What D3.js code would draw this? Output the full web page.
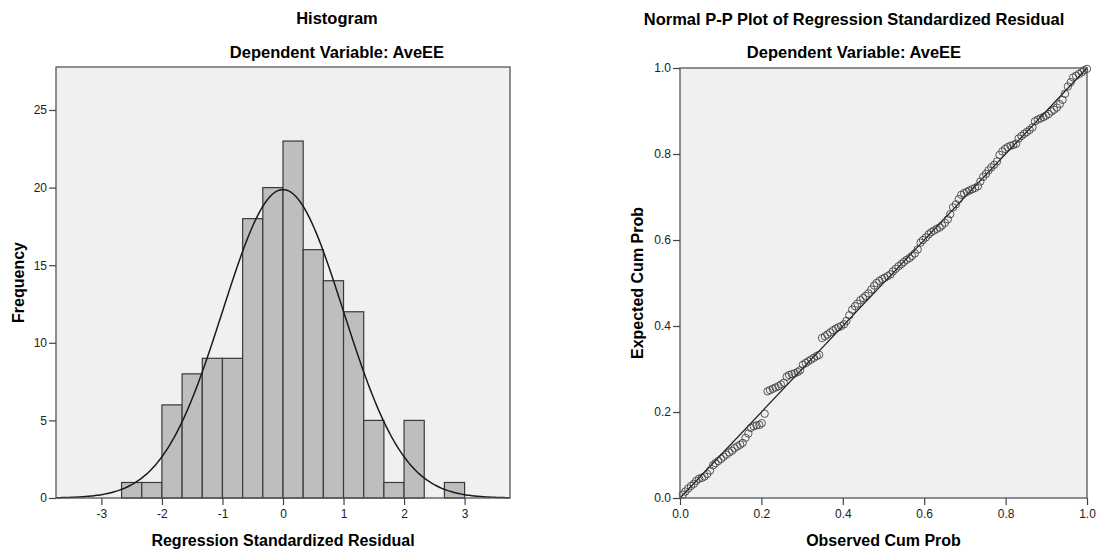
<!DOCTYPE html>
<html>
<head>
<meta charset="utf-8">
<script src="https://cdn.jsdelivr.net/npm/d3@7"></script>
<style>
  body { margin: 0; background: #fff; }
  svg text { font-family: "Liberation Sans", Arial, sans-serif; }
</style>
</head>
<body>
<script>
// histogram bins (regression standardized residual), width 1/3
const binStarts = [-8/3, -7/3, -2, -5/3, -4/3, -1, -2/3, -1/3, 0, 1/3, 2/3, 1, 4/3, 5/3, 2, 7/3, 8/3];
const binCounts = [1, 1, 6, 8, 9, 9, 18, 20, 23, 16, 14, 12, 5, 1, 5, 0, 1];
const binWidth = 1/3;
const histXTicks = [-3, -2, -1, 0, 1, 2, 3];
const histYTicks = [0, 5, 10, 15, 20, 25];

// normal curve parameters
const resMean = 0;
const resSd = 0.997;
const resN = 149;

// P-P plot points
const ppObserved = [
  .007, .013, .020, .027, .034, .040, .047, .054, .060, .067,
  .074, .081, .087, .094, .101, .107, .114, .121, .128, .134,
  .141, .148, .154, .161, .168, .174, .181, .188, .195, .201,
  .208, .215, .221, .228, .235, .242, .248, .255, .262, .268,
  .275, .282, .289, .295, .302, .309, .315, .322, .329, .336,
  .342, .349, .356, .362, .369, .376, .383, .389, .396, .403,
  .409, .416, .423, .430, .436, .443, .450, .456, .463, .470,
  .477, .483, .490, .497, .503, .510, .517, .523, .530, .537,
  .544, .550, .557, .564, .570, .577, .584, .591, .597, .604,
  .611, .617, .624, .631, .638, .644, .651, .658, .664, .671,
  .678, .685, .691, .698, .705, .711, .718, .725, .732, .738,
  .745, .752, .758, .765, .772, .779, .785, .792, .799, .805,
  .812, .819, .826, .832, .839, .846, .852, .859, .866, .872,
  .879, .886, .893, .899, .906, .913, .919, .926, .933, .940,
  .946, .953, .960, .966, .973, .980, .987, .993, 1.000
];
const ppExpected = [
  .008, .015, .022, .028, .033, .040, .045, .047, .050, .056,
  .064, .076, .081, .086, .091, .096, .101, .106, .110, .116,
  .120, .124, .128, .140, .150, .163, .167, .169, .170, .174,
  .196, .248, .251, .254, .257, .260, .264, .268, .282, .286,
  .288, .290, .293, .297, .310, .314, .318, .322, .326, .330,
  .333, .372, .376, .380, .385, .390, .394, .397, .400, .404,
  .412, .425, .438, .446, .452, .460, .465, .470, .476, .485,
  .494, .500, .505, .509, .512, .516, .520, .527, .533, .539,
  .544, .549, .554, .558, .563, .569, .578, .594, .600, .606,
  .613, .618, .622, .626, .629, .634, .640, .648, .660, .676,
  .683, .695, .705, .709, .712, .715, .718, .721, .725, .736,
  .747, .754, .762, .769, .775, .783, .798, .806, .812, .816,
  .819, .821, .824, .836, .842, .847, .851, .856, .862, .876,
  .880, .883, .886, .889, .893, .899, .903, .908, .916, .926,
  .940, .957, .967, .978, .982, .986, .990, .995, .998
];
const ppTicks = [0, 0.2, 0.4, 0.6, 0.8, 1.0];

const W = 1098, H = 554;
const plotBg = "#f0f0f0";
const frameColor = "#555";

const svg = d3.select("body").append("svg")
  .attr("width", W)
  .attr("height", H);

svg.append("rect").attr("width", W).attr("height", H).attr("fill", "#fff");

function styleAxis(g) {
  g.select(".domain").remove();
  g.selectAll(".tick line").attr("stroke", "#444").attr("stroke-width", 1.2);
  g.selectAll(".tick text")
    .attr("fill", "#222")
    .style("font-size", "12px");
}

// ---------- Histogram ----------
const h = { left: 56, right: 510, top: 67, bottom: 498 };

const hx = d3.scaleLinear().domain([-3.75, 3.75]).range([h.left, h.right]);
const hy = d3.scaleLinear().domain([0, 27.77]).range([h.bottom, h.top]);

svg.append("rect")
  .attr("x", h.left).attr("y", h.top)
  .attr("width", h.right - h.left).attr("height", h.bottom - h.top)
  .attr("fill", plotBg);

const bins = binCounts.map((c, i) => ({ start: binStarts[i], count: c })).filter(d => d.count > 0);

svg.append("g")
  .selectAll("rect")
  .data(bins)
  .join("rect")
  .attr("x", d => hx(d.start))
  .attr("y", d => hy(d.count))
  .attr("width", d => hx(d.start + binWidth) - hx(d.start))
  .attr("height", d => hy(0) - hy(d.count))
  .attr("fill", "#bebebe")
  .attr("stroke", "#3a3a3a")
  .attr("stroke-width", 1.2);

// fitted normal curve
const curveX = d3.range(-3.75, 3.7501, 0.025);
const normal = x => resN * binWidth * Math.exp(-0.5 * ((x - resMean) / resSd) ** 2) / (resSd * Math.sqrt(2 * Math.PI));
svg.append("path")
  .datum(curveX)
  .attr("d", d3.line().x(d => hx(d)).y(d => hy(normal(d))))
  .attr("fill", "none")
  .attr("stroke", "#1a1a1a")
  .attr("stroke-width", 1.5);

svg.append("rect")
  .attr("x", h.left).attr("y", h.top)
  .attr("width", h.right - h.left).attr("height", h.bottom - h.top)
  .attr("fill", "none")
  .attr("stroke", frameColor)
  .attr("stroke-width", 1.3);

svg.append("g")
  .attr("transform", `translate(0, ${h.bottom})`)
  .call(d3.axisBottom(hx).tickValues(histXTicks).tickFormat(d => String(d)).tickSize(7).tickPadding(4))
  .call(styleAxis);

svg.append("g")
  .attr("transform", `translate(${h.left}, 0)`)
  .call(d3.axisLeft(hy).tickValues(histYTicks).tickFormat(d => String(d)).tickSize(7).tickPadding(2))
  .call(styleAxis);

svg.append("text")
  .attr("x", 337).attr("y", 24)
  .attr("text-anchor", "middle")
  .style("font-size", "16.5px").style("font-weight", "bold")
  .text("Histogram");

svg.append("text")
  .attr("x", 337).attr("y", 58)
  .attr("text-anchor", "middle")
  .style("font-size", "16.5px").style("font-weight", "bold")
  .text("Dependent Variable: AveEE");

svg.append("text")
  .attr("x", (h.left + h.right) / 2).attr("y", 546)
  .attr("text-anchor", "middle")
  .style("font-size", "16px").style("font-weight", "bold")
  .text("Regression Standardized Residual");

svg.append("text")
  .attr("transform", `translate(24, ${(h.top + h.bottom) / 2}) rotate(-90)`)
  .attr("text-anchor", "middle")
  .style("font-size", "16px").style("font-weight", "bold")
  .text("Frequency");

// ---------- P-P plot ----------
const p = { left: 680, right: 1087, top: 68, bottom: 498 };

const px = d3.scaleLinear().domain([0, 1]).range([p.left, p.right]);
const py = d3.scaleLinear().domain([0, 1]).range([p.bottom, p.top]);

svg.append("rect")
  .attr("x", p.left).attr("y", p.top)
  .attr("width", p.right - p.left).attr("height", p.bottom - p.top)
  .attr("fill", plotBg);

svg.append("line")
  .attr("x1", px(0)).attr("y1", py(0))
  .attr("x2", px(1)).attr("y2", py(1))
  .attr("stroke", "#1a1a1a")
  .attr("stroke-width", 1.2);

svg.append("g")
  .selectAll("circle")
  .data(ppObserved)
  .join("circle")
  .attr("cx", d => px(d))
  .attr("cy", (d, i) => py(ppExpected[i]))
  .attr("r", 3.7)
  .attr("fill", "none")
  .attr("stroke", "#333")
  .attr("stroke-opacity", 0.8)
  .attr("stroke-width", 1);

svg.append("rect")
  .attr("x", p.left).attr("y", p.top)
  .attr("width", p.right - p.left).attr("height", p.bottom - p.top)
  .attr("fill", "none")
  .attr("stroke", frameColor)
  .attr("stroke-width", 1.3);

svg.append("g")
  .attr("transform", `translate(0, ${p.bottom})`)
  .call(d3.axisBottom(px).tickValues(ppTicks).tickFormat(d3.format(".1f")).tickSize(7).tickPadding(4))
  .call(styleAxis);

svg.append("g")
  .attr("transform", `translate(${p.left}, 0)`)
  .call(d3.axisLeft(py).tickValues(ppTicks).tickFormat(d3.format(".1f")).tickSize(7).tickPadding(2))
  .call(styleAxis);

svg.append("text")
  .attr("x", 854).attr("y", 25)
  .attr("text-anchor", "middle")
  .style("font-size", "16.5px").style("font-weight", "bold")
  .text("Normal P-P Plot of Regression Standardized Residual");

svg.append("text")
  .attr("x", 854).attr("y", 58)
  .attr("text-anchor", "middle")
  .style("font-size", "16.5px").style("font-weight", "bold")
  .text("Dependent Variable: AveEE");

svg.append("text")
  .attr("x", (p.left + p.right) / 2).attr("y", 546)
  .attr("text-anchor", "middle")
  .style("font-size", "16px").style("font-weight", "bold")
  .text("Observed Cum Prob");

svg.append("text")
  .attr("transform", `translate(643, ${(p.top + p.bottom) / 2}) rotate(-90)`)
  .attr("text-anchor", "middle")
  .style("font-size", "16px").style("font-weight", "bold")
  .text("Expected Cum Prob");
</script>
</body>
</html>
